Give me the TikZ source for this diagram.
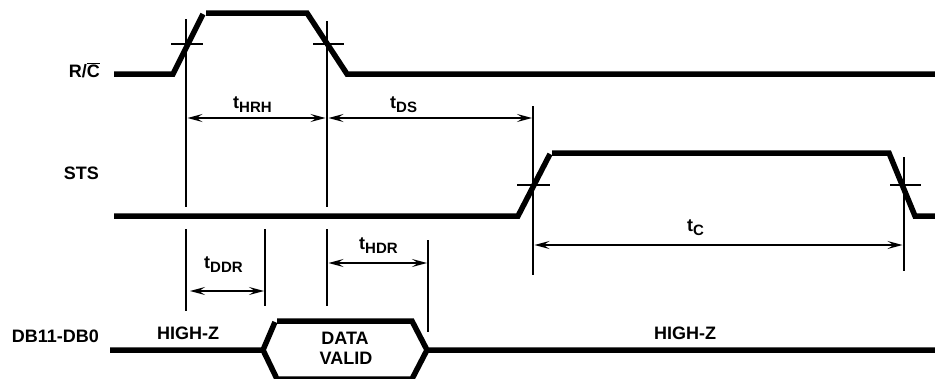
\documentclass[tikz,border=0pt]{standalone}
\usepackage{fontspec}
\setmainfont{Liberation Sans}
\usetikzlibrary{arrows.meta}
\newcommand\tsb[1]{t\raisebox{-4pt}{\fontsize{15}{15}\selectfont #1}}
\begin{document}
\begin{tikzpicture}[x=1pt,y=-1pt,
  sig/.style={line width=5.5pt,line join=miter,line cap=butt},
  thin/.style={line width=1.2pt},
  dim/.style={line width=1.2pt,{Stealth[length=15pt,width=8pt,inset=6pt]}-{Stealth[length=15pt,width=8pt,inset=6pt]}},
  lbl/.style={font=\fontsize{18}{20}\selectfont\bfseries,inner sep=0pt},
  tl/.style={font=\fontsize{18}{20}\selectfont\bfseries,inner sep=0pt,anchor=base west}]
\useasboundingbox (0,0) rectangle (935,378);
% signal R/C
\draw[sig] (114,74) -- (173,74) -- (203,14);
\draw[sig] (206,13) -- (307,13) -- (347,74) -- (935,74);
% STS
\draw[sig] (114,216) -- (518,216) -- (550,154);
\draw[sig] (552,153) -- (889,153) -- (915,216) -- (935,216);
% DB11-DB0
\draw[sig] (110,350) -- (263,350) -- (275,322);
\draw[sig] (277,321) -- (412,321) -- (427,350) -- (935,350);
\draw[sig] (263,350) -- (277,379) -- (412,379) -- (427,350);
% crossing ticks
\draw[thin] (171,44) -- (203,44);
\draw[thin] (313,44) -- (344,44);
\draw[thin] (517,185) -- (550,185);
\draw[thin] (890,185) -- (921,185);
% vertical reference lines
\coordinate (v1a) at (186,19); \coordinate (v1b) at (186,207);
\coordinate (v1c) at (186,229); \coordinate (v1d) at (186,311);
\coordinate (v2a) at (327,21); \coordinate (v2b) at (327,207);
\coordinate (v2c) at (327,229); \coordinate (v2d) at (327,306);
\coordinate (v3a) at (265,229); \coordinate (v3b) at (265,306);
\coordinate (v4a) at (428,240); \coordinate (v4b) at (428,332);
\coordinate (v5a) at (533,106); \coordinate (v5b) at (533,275);
\coordinate (v6a) at (904,157); \coordinate (v6b) at (904,271);
\draw[thin] (v1a) -- (v1b) (v1c) -- (v1d);
\draw[thin] (v2a) -- (v2b) (v2c) -- (v2d);
\draw[thin] (v3a) -- (v3b);
\draw[thin] (v4a) -- (v4b);
\draw[thin] (v5a) -- (v5b);
\draw[thin] (v6a) -- (v6b);
% dimension arrows
\coordinate (a1) at (187.5,118); \coordinate (a2) at (325.5,118);
\coordinate (a3) at (328.5,118); \coordinate (a4) at (532,118);
\coordinate (a5) at (534.5,245); \coordinate (a6) at (902.5,245);
\coordinate (a7) at (190,291); \coordinate (a8) at (264,291);
\coordinate (a9) at (328.5,263); \coordinate (a10) at (427,263);
\draw[dim] (a1) -- (a2);
\draw[dim] (a3) -- (a4);
\draw[dim] (a5) -- (a6);
\draw[dim] (a7) -- (a8);
\draw[dim] (a9) -- (a10);
% labels
\node[lbl,anchor=base east] (lrc) at (100,77) {R/$\overline{\mbox{C}}$};
\node[lbl,anchor=base east] (lsts) at (99,179) {STS};
\node[lbl,anchor=base east] (ldb) at (99,342) {DB11-DB0};
\node[lbl,anchor=base west] (hz1) at (157,339) {HIGH-Z};
\node[lbl,anchor=base west] (hz2) at (654,339) {HIGH-Z};
\node[lbl,anchor=base] (dv1) at (345,344) {DATA};
\node[lbl,anchor=base] (dv2) at (346,364) {VALID};
\node[tl] (thrh) at (233,108) {\tsb{HRH}};
\node[tl] (tds) at (390,108) {\tsb{DS}};
\node[tl] (tc) at (687,231) {\tsb{C}};
\node[tl] (tddr) at (204,268) {\tsb{DDR}};
\node[tl] (thdr) at (359,249) {\tsb{HDR}};
\end{tikzpicture}
\end{document}
